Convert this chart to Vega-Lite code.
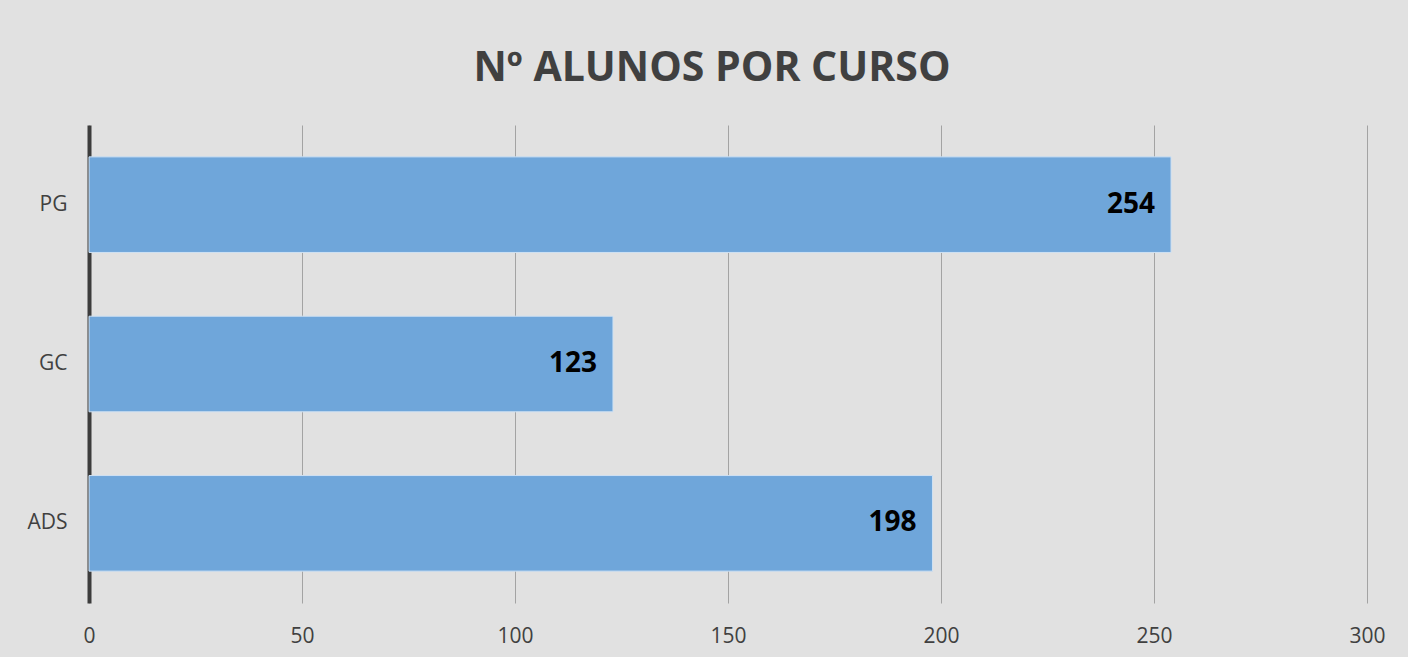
{
  "$schema": "https://vega.github.io/schema/vega-lite/v6.json",
  "width": 1278,
  "height": 478,
  "autosize": {"type": "none"},
  "padding": {"left": 89, "top": 125, "right": 41, "bottom": 54},
  "background": "#e1e1e1",
  "title": {
    "text": "Nº ALUNOS POR CURSO",
    "font": "Open Sans",
    "fontSize": 41,
    "fontWeight": "bold",
    "color": "#404040",
    "anchor": "middle",
    "baseline": "alphabetic",
    "offset": 3,
    "dx": -16
  },
  "data": {
    "values": [
      {"curso": "PG", "alunos": 254},
      {"curso": "GC", "alunos": 123},
      {"curso": "ADS", "alunos": 198}
    ]
  },
  "encoding": {
    "y": {
      "field": "curso",
      "type": "nominal",
      "sort": ["PG", "GC", "ADS"],
      "scale": {"paddingInner": 0.4, "paddingOuter": 0.2},
      "axis": {
        "title": null,
        "labelFont": "Open Sans",
        "labelFontSize": 21,
        "labelColor": "#404040",
        "labelPadding": 22,
        "ticks": false,
        "domainColor": "#3c3c3c",
        "domainWidth": 4,
        "grid": false
      }
    },
    "x": {
      "field": "alunos",
      "type": "quantitative",
      "scale": {"domain": [0, 300], "nice": false},
      "axis": {
        "title": null,
        "values": [0, 50, 100, 150, 200, 250, 300],
        "labelFont": "Open Sans",
        "labelFontSize": 21,
        "labelColor": "#404040",
        "labelPadding": 22,
        "labelFlush": false,
        "ticks": false,
        "domain": false,
        "grid": true,
        "gridColor": "#a3a3a3",
        "gridWidth": 1
      }
    }
  },
  "layer": [
    {
      "mark": {"type": "bar", "color": "#6fa6da", "stroke": "#cfe1f3", "strokeWidth": 1}
    },
    {
      "mark": {
        "type": "text",
        "align": "right",
        "baseline": "middle",
        "dx": -16,
        "font": "Open Sans",
        "fontSize": 28,
        "fontWeight": "bold",
        "color": "#000000"
      },
      "encoding": {"text": {"field": "alunos", "type": "quantitative"}}
    }
  ],
  "config": {"view": {"stroke": null}}
}
